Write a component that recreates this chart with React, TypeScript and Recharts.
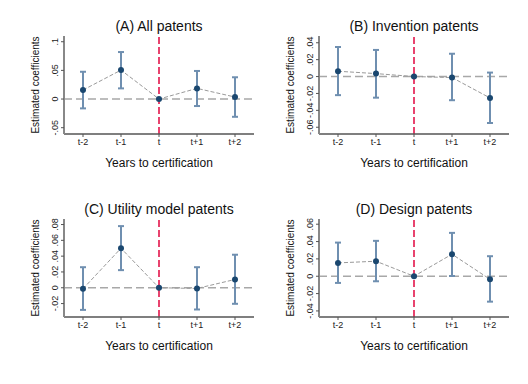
import {
  ComposedChart,
  ErrorBar,
  Line,
  ReferenceLine,
  Scatter,
  XAxis,
  YAxis,
} from "recharts";

const periods = ["t-2", "t-1", "t", "t+1", "t+2"];

// (A) All patents
const allCoef = [0.0157, 0.0505, 0, 0.0186, 0.0035];
const allLo = [-0.0163, 0.0186, 0, -0.0122, -0.031];
const allHi = [0.0476, 0.082, 0, 0.049, 0.038];
const allTicks = [-0.05, 0, 0.05, 0.1];
const allTickLabels = ["-.05", "0", ".05", ".1"];

// (B) Invention patents
const invCoef = [0.0063, 0.0035, 0, -0.0012, -0.0253];
const invLo = [-0.022, -0.025, 0, -0.028, -0.055];
const invHi = [0.035, 0.0315, 0, 0.027, 0.0047];
const invTicks = [-0.06, -0.04, -0.02, 0, 0.02, 0.04];
const invTickLabels = ["-.06", "-.04", "-.02", "0", ".02", ".04"];

// (C) Utility model patents
const utilCoef = [-0.0013, 0.05, 0, -0.0009, 0.0105];
const utilLo = [-0.028, 0.0223, 0, -0.0275, -0.0203];
const utilHi = [0.026, 0.078, 0, 0.026, 0.0418];
const utilTicks = [-0.02, 0, 0.02, 0.04, 0.06, 0.08];
const utilTickLabels = ["-.02", "0", ".02", ".04", ".06", ".08"];

// (D) Design patents
const desCoef = [0.0154, 0.0173, 0, 0.0254, -0.0035];
const desLo = [-0.0077, -0.0058, 0, 0.0003, -0.0293];
const desHi = [0.0388, 0.0408, 0, 0.05, 0.0231];
const desTicks = [-0.04, -0.02, 0, 0.02, 0.04, 0.06];
const desTickLabels = ["-.04", "-.02", "0", ".02", ".04", ".06"];

const FONT = '"Liberation Sans", Arial, sans-serif';
const NAVY = "#1a476f";
const CI = "#6f8fb0";

type PanelProps = {
  title: string;
  coef: number[];
  lo: number[];
  hi: number[];
  ticks: number[];
  tickLabels: string[];
  domain: [number, number];
  left: number;
  top: number;
};

function Panel({ title, coef, lo, hi, ticks, tickLabels, domain, left, top }: PanelProps) {
  const data = periods.map((p, i) => ({
    period: p,
    coef: coef[i],
    err: [coef[i] - lo[i], hi[i] - coef[i]],
  }));

  const renderYTick = (props: any) => {
    const { x, y, payload } = props;
    const idx = ticks.indexOf(payload.value);
    const tx = x - 2;
    return (
      <text
        x={tx}
        y={y}
        transform={`rotate(-90 ${tx} ${y})`}
        textAnchor="middle"
        dy="0.35em"
        fontSize={9}
        fill="#222"
        fontFamily={FONT}
      >
        {idx >= 0 ? tickLabels[idx] : payload.value}
      </text>
    );
  };

  return (
    <div style={{ position: "absolute", left, top, width: 264, height: 192 }}>
      <ComposedChart
        width={264}
        height={192}
        data={data}
        margin={{ top: 36, right: 10, left: 36, bottom: 18 }}
      >
        <XAxis
          dataKey="period"
          padding={{ left: 19, right: 19 }}
          height={40}
          interval={0}
          tickSize={3}
          tickMargin={2}
          tick={{ fontSize: 9, fill: "#222", fontFamily: FONT }}
          axisLine={{ stroke: "#555", strokeWidth: 1.5 }}
          tickLine={{ stroke: "#555" }}
        />
        <YAxis
          type="number"
          domain={domain}
          ticks={ticks}
          interval={0}
          allowDataOverflow
          width={28}
          tickSize={3}
          tickMargin={4}
          tick={renderYTick}
          axisLine={{ stroke: "#888", strokeWidth: 2 }}
          tickLine={{ stroke: "#555" }}
        />
        <ReferenceLine y={0} stroke="#a8a8a8" strokeWidth={1.5} strokeDasharray="8 4" />
        <ReferenceLine x="t" stroke="#e8436e" strokeWidth={2} strokeDasharray="7 3" />
        <Line
          dataKey="coef"
          stroke="#9a9a9a"
          strokeWidth={1}
          strokeDasharray="4 2"
          dot={false}
          activeDot={false}
          isAnimationActive={false}
        />
        <Scatter
          dataKey="coef"
          isAnimationActive={false}
          shape={(p: any) => <circle cx={p.cx} cy={p.cy} r={3} fill={NAVY} />}
        >
          <ErrorBar
            dataKey="err"
            direction="y"
            width={3}
            stroke={CI}
            strokeWidth={2}
            isAnimationActive={false}
          />
        </Scatter>
      </ComposedChart>
      <div
        style={{
          position: "absolute",
          left: 64,
          top: 18,
          width: 190,
          textAlign: "center",
          fontFamily: FONT,
          fontSize: 14,
          lineHeight: "16px",
          color: "#111",
          whiteSpace: "nowrap",
        }}
      >
        {title}
      </div>
      <div
        style={{
          position: "absolute",
          left: 64,
          top: 156,
          width: 190,
          textAlign: "center",
          fontFamily: FONT,
          fontSize: 12,
          lineHeight: "14px",
          color: "#111",
          whiteSpace: "nowrap",
        }}
      >
        Years to certification
      </div>
      <div
        style={{
          position: "absolute",
          left: 36,
          top: 85,
          transform: "translate(-50%, -50%) rotate(-90deg)",
          fontFamily: FONT,
          fontSize: 10,
          lineHeight: "12px",
          color: "#111",
          whiteSpace: "nowrap",
        }}
      >
        Estimated coefficients
      </div>
    </div>
  );
}

export default function App() {
  return (
    <div
      style={{
        position: "absolute",
        left: 0,
        top: 0,
        width: 528,
        height: 384,
        background: "#fff",
        overflow: "hidden",
      }}
    >
      <Panel
        title="(A) All patents"
        coef={allCoef}
        lo={allLo}
        hi={allHi}
        ticks={allTicks}
        tickLabels={allTickLabels}
        domain={[-0.061, 0.11]}
        left={0}
        top={0}
      />
      <Panel
        title="(B) Invention patents"
        coef={invCoef}
        lo={invLo}
        hi={invHi}
        ticks={invTicks}
        tickLabels={invTickLabels}
        domain={[-0.068, 0.048]}
        left={255}
        top={0}
      />
      <Panel
        title="(C) Utility model patents"
        coef={utilCoef}
        lo={utilLo}
        hi={utilHi}
        ticks={utilTicks}
        tickLabels={utilTickLabels}
        domain={[-0.037, 0.087]}
        left={0}
        top={183}
      />
      <Panel
        title="(D) Design patents"
        coef={desCoef}
        lo={desLo}
        hi={desHi}
        ticks={desTicks}
        tickLabels={desTickLabels}
        domain={[-0.047, 0.066]}
        left={255}
        top={183}
      />
    </div>
  );
}
